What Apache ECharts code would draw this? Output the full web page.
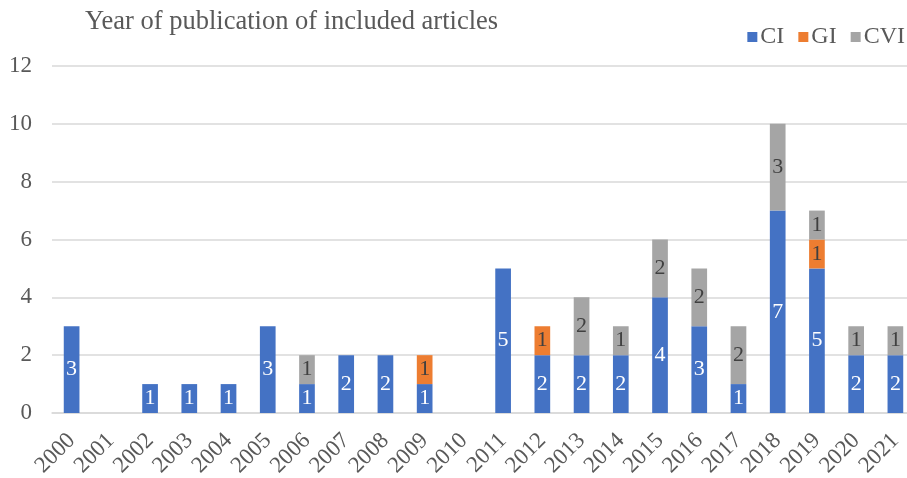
<!DOCTYPE html>
<html>
<head>
<meta charset="utf-8">
<script src="https://cdn.jsdelivr.net/npm/echarts@6/dist/echarts.min.js"></script>
<style>
html,body{margin:0;padding:0;background:#fff;}
#chart{width:907px;height:478px;}
</style>
</head>
<body>
<div id="chart"></div>
<script>
const years = ['2000','2001','2002','2003','2004','2005','2006','2007','2008','2009','2010','2011','2012','2013','2014','2015','2016','2017','2018','2019','2020','2021'];
const ciValues  = [3,0,1,1,1,3,1,2,2,1,0,5,2,2,2,4,3,1,7,5,2,2];
const giValues  = [0,0,0,0,0,0,0,0,0,1,0,0,1,0,0,0,0,0,0,1,0,0];
const cviValues = [0,0,0,0,0,0,1,0,0,0,0,0,0,2,1,2,2,2,3,1,1,1];
const yTicks = [0,2,4,6,8,10,12];

const FONT = '"Liberation Serif","Times New Roman",serif';
const chart = echarts.init(document.getElementById('chart'), null, {renderer:'canvas'});

function mkSeries(name, data, color, labelColor){
  return {
    name: name,
    type: 'bar',
    stack: 'total',
    data: data,
    barWidth: '40%',
    itemStyle: {color: color},
    label: {
      show: true,
      position: 'inside',
      color: labelColor,
      fontFamily: FONT,
      fontSize: 22,
      formatter: p => p.value > 0 ? String(p.value) : ''
    },
    emphasis: {disabled: true}
  };
}

chart.setOption({
  animation: false,
  backgroundColor: '#ffffff',
  title: {
    text: 'Year of publication of included articles',
    left: 80,
    top: 4,
    textStyle: {fontFamily: FONT, fontSize: 26.5, fontWeight: 'normal', color: '#595959'}
  },
  legend: {
    right: -3,
    top: 20,
    itemWidth: 10,
    itemHeight: 10,
    itemGap: 14,
    icon: 'rect',
    textStyle: {fontFamily: FONT, fontSize: 24, color: '#595959', padding: [0,0,0,-2]},
    data: ['CI','GI','CVI']
  },
  grid: {
    left: 52,
    right: -8,
    top: 66,
    bottom: 65,
    containLabel: false,
    outerBoundsMode: 'none'
  },
  xAxis: {
    type: 'category',
    data: years,
    axisTick: {show: false},
    axisLine: {show: true, lineStyle: {color: '#D9D9D9', width: 1.5}},
    axisLabel: {
      rotate: 45,
      margin: 24,
      interval: 0,
      fontFamily: FONT,
      fontSize: 23,
      color: '#595959'
    }
  },
  yAxis: {
    type: 'value',
    min: yTicks[0],
    max: yTicks[yTicks.length-1],
    interval: 2,
    axisLine: {show: false},
    axisTick: {show: false},
    splitLine: {lineStyle: {color: '#D9D9D9', width: 1.5}},
    axisLabel: {
      margin: 20,
      fontFamily: FONT,
      fontSize: 23,
      color: '#595959'
    }
  },
  series: [
    mkSeries('CI', ciValues, '#4472C4', '#ffffff'),
    mkSeries('GI', giValues, '#ED7D31', '#404040'),
    mkSeries('CVI', cviValues, '#A5A5A5', '#404040')
  ]
});
</script>
</body>
</html>
